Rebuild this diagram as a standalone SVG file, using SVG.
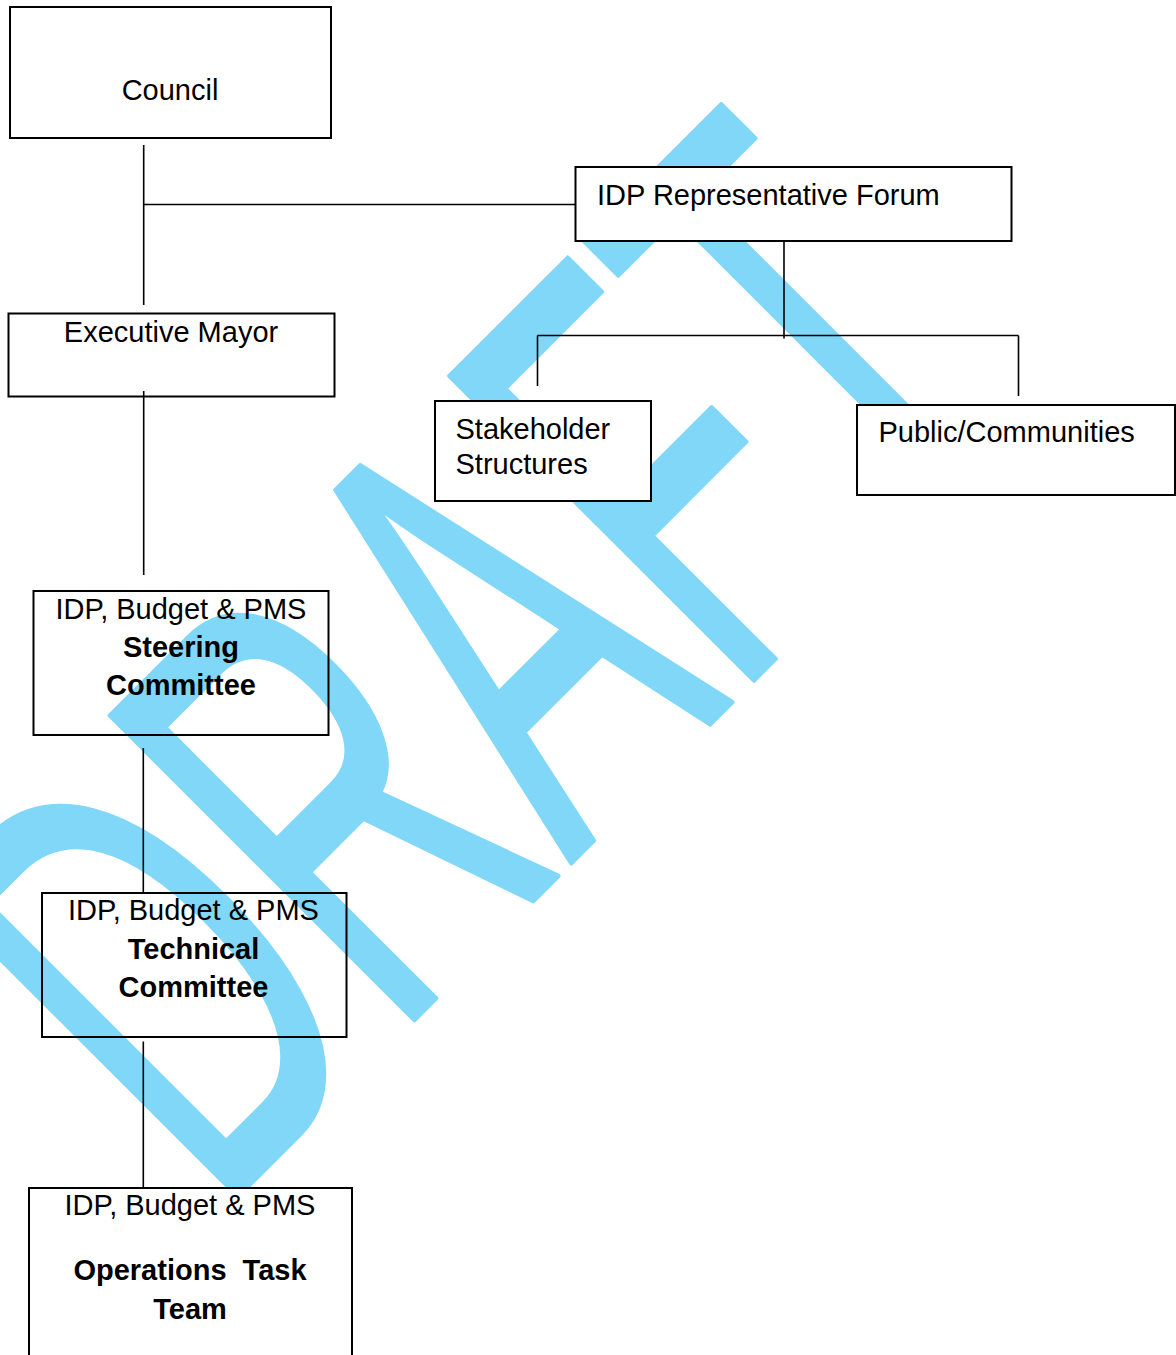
<svg xmlns="http://www.w3.org/2000/svg" width="1176" height="1355" viewBox="0 0 1176 1355">
<style>
.box{stroke:#000;stroke-width:2;fill:none}
.wbox{stroke:#000;stroke-width:2;fill:#fff}
.t{font-family:"Liberation Sans",Arial,sans-serif;font-size:29px;fill:#000}
.b{font-weight:bold}
.c{text-anchor:middle}
.ln{stroke:#000;stroke-width:1.6;fill:none}
.wm{font-family:"Liberation Sans",Arial,sans-serif;font-size:625px;fill:#81d7f7;stroke:#81d7f7;stroke-width:5;stroke-linejoin:round;font-kerning:none}
</style>
<rect width="1176" height="1355" fill="#fff"/>
<g id="watermark" transform="rotate(-45) translate(-707,1014) scale(0.553,1)">
<text class="wm" x="0" y="0">DRAFT</text>
</g>
<g id="council"><rect class="wbox" x="10" y="7" width="321" height="131"/><text class="t c" x="170" y="100">Council</text></g>
<g id="mayor"><rect class="wbox" x="8.5" y="313.5" width="326" height="83"/><text class="t c" x="171" y="342">Executive Mayor</text></g>
<g id="forum"><rect class="wbox" x="575.5" y="167" width="436" height="74"/><text class="t" x="597" y="205">IDP Representative Forum</text></g>
<g id="stakeholder"><rect class="wbox" x="435" y="401" width="216" height="100"/><text class="t" x="455.5" y="438.5">Stakeholder</text><text class="t" x="455.5" y="473.5">Structures</text></g>
<g id="public"><rect class="wbox" x="857" y="405" width="318" height="90"/><text class="t" x="878.5" y="442">Public/Communities</text></g>
<g id="steering"><rect class="box" x="33.5" y="591" width="295" height="144"/><text class="t c" x="181" y="618.5">IDP, Budget &amp; PMS</text><text class="t b c" x="181" y="657">Steering</text><text class="t b c" x="181" y="695">Committee</text></g>
<g id="technical"><rect class="box" x="42" y="893" width="304.5" height="144"/><text class="t c" x="193.5" y="920">IDP, Budget &amp; PMS</text><text class="t b c" x="193.5" y="958.5">Technical</text><text class="t b c" x="193.5" y="997">Committee</text></g>
<g id="operations"><rect class="wbox" x="29" y="1188" width="323" height="200"/><text class="t c" x="190" y="1215">IDP, Budget &amp; PMS</text><text class="t b c" x="190" y="1280" xml:space="preserve">Operations  Task</text><text class="t b c" x="190" y="1318.5">Team</text></g>
<g id="connectors">
<line class="ln" x1="143.7" y1="145" x2="143.7" y2="305"/>
<line class="ln" x1="143.7" y1="204.5" x2="575.5" y2="204.5"/>
<line class="ln" x1="143.7" y1="391" x2="143.7" y2="575"/>
<line class="ln" x1="143.3" y1="748" x2="143.3" y2="892"/>
<line class="ln" x1="143.3" y1="1041.5" x2="143.3" y2="1187"/>
<line class="ln" x1="784" y1="241" x2="784" y2="338.5"/>
<line class="ln" x1="537.5" y1="335.5" x2="1018.5" y2="335.5"/>
<line class="ln" x1="537.5" y1="335.5" x2="537.5" y2="386"/>
<line class="ln" x1="1018.5" y1="335.5" x2="1018.5" y2="396"/>
</g>
</svg>
